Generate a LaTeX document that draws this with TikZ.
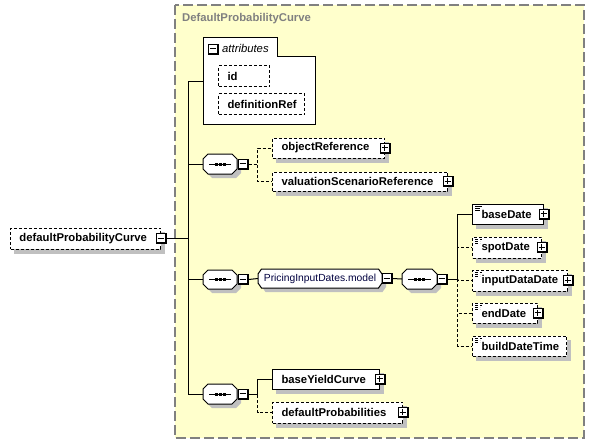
\documentclass[tikz,border=0pt]{standalone}
\usepackage{fontspec}
\setmainfont{Liberation Sans}
\definecolor{bgyellow}{HTML}{FFFFCC}
\definecolor{shadowgray}{HTML}{C0C0C0}
\definecolor{bordergray}{HTML}{808080}
\definecolor{modelblue}{HTML}{000040}
\pgfdeclarelayer{back}
\pgfdeclarelayer{shadow}
\pgfsetlayers{back,shadow,main}
% octagon: cx, cy, half width, half height, chamfer x, chamfer y
\newcommand\octshape[6]{%
  \fill[shadowgray] ({#1-#3+#5+4},{#2-#4+4}) -- ({#1+#3-#5+4},{#2-#4+4}) -- ({#1+#3+4},{#2-#4+#6+4})
    -- ({#1+#3+4},{#2+#4-#6+4}) -- ({#1+#3-#5+4},{#2+#4+4}) -- ({#1-#3+#5+4},{#2+#4+4})
    -- ({#1-#3+4},{#2+#4-#6+4}) -- ({#1-#3+4},{#2-#4+#6+4}) -- cycle;
  \draw[fill=white,line width=1pt] ({#1-#3+#5},{#2-#4}) -- ({#1+#3-#5},{#2-#4}) -- ({#1+#3},{#2-#4+#6})
    -- ({#1+#3},{#2+#4-#6}) -- ({#1+#3-#5},{#2+#4}) -- ({#1-#3+#5},{#2+#4})
    -- ({#1-#3},{#2+#4-#6}) -- ({#1-#3},{#2-#4+#6}) -- cycle;}
% sequence compositor: cx, cy, half width, half height
\newcommand\seqshape[4]{%
  \octshape{#1}{#2}{#3}{#4}{5}{5}%
  \draw[line width=1pt] ({#1-#3+6},#2) -- ({#1+#3-6},#2);
  \fill[black] ({#1-5.5},{#2-1.5}) rectangle ++(3,3);
  \fill[black] ({#1-1.5},{#2-1.5}) rectangle ++(3,3);
  \fill[black] ({#1+2.5},{#2-1.5}) rectangle ++(3,3);}
\tikzset{
  every node/.style={font=\fontsize{11.3}{13}\selectfont\bfseries},
  elem/.style={draw,fill=white,anchor=west,inner xsep=9pt,inner ysep=0pt,align=left,line width=1pt,minimum height=20pt},
  opt/.style={dash pattern=on 3pt off 2pt},
  pmbox/.style={draw=none,fill=black,minimum size=11pt,inner sep=0pt},
  plusbox/.style={pmbox,path picture={
      \filldraw[fill=white,draw=black,line width=1pt] ([shift={(0.5pt,-0.5pt)}]path picture bounding box.north west) rectangle ([shift={(-1.5pt,1.5pt)}]path picture bounding box.south east);
      \draw[line width=1pt] ([shift={(-3.5pt,0.5pt)}]path picture bounding box.center) -- ([shift={(2.5pt,0.5pt)}]path picture bounding box.center);
      \draw[line width=1pt] ([shift={(-0.5pt,3.5pt)}]path picture bounding box.center) -- ([shift={(-0.5pt,-2.5pt)}]path picture bounding box.center);}},
  minusbox/.style={pmbox,path picture={
      \filldraw[fill=white,draw=black,line width=1pt] ([shift={(0.5pt,-0.5pt)}]path picture bounding box.north west) rectangle ([shift={(-1.5pt,1.5pt)}]path picture bounding box.south east);
      \draw[line width=1pt] ([shift={(-3.5pt,0.5pt)}]path picture bounding box.center) -- ([shift={(2.5pt,0.5pt)}]path picture bounding box.center);}},
  icon/.style={path picture={
      \draw[line width=0.8pt] ([xshift=2.5pt,yshift=-2pt]path picture bounding box.north west) -- ++(7pt,0pt);
      \draw[line width=0.8pt] ([xshift=2.5pt,yshift=-4pt]path picture bounding box.north west) -- ++(5pt,0pt);
      \draw[line width=0.8pt] ([xshift=2.5pt,yshift=-6pt]path picture bounding box.north west) -- ++(5pt,0pt);}},
  seqbox/.style={rectangle,draw=none,fill=none,minimum width=34pt,minimum height=20pt,inner sep=0pt},
  conn/.style={line width=1pt}
}
\begin{document}
\begin{tikzpicture}[x=1pt,y=-1pt]
\useasboundingbox (0,0) rectangle (595,444);
% container
\begin{pgfonlayer}{back}
\draw[fill=bgyellow,draw=bordergray,line width=1.3pt,dash pattern=on 10pt off 4pt] (175,5) rectangle (584,438);
\end{pgfonlayer}
\node[anchor=west,inner sep=0pt,text=bordergray] (title) at (182,19) {DefaultProbabilityCurve};

% attributes box
\draw[fill=white,line width=1pt] (203,38) -- (277,38) -- (277,57) -- (315,57) -- (315,125) -- (203,125) -- cycle;
\coordinate (attrW) at (203,82);
\node[minusbox] (attrm) at (213.5,49.5) {};
\node[anchor=west,inner sep=0pt,font=\fontsize{11.3}{13}\selectfont\itshape] (attrlbl) at (222,48.5) {attributes};
\node[elem,opt,text width=33pt,minimum height=21pt] (id) at (218,76.5) {id};
\node[elem,opt,text width=68pt,minimum height=21pt] (defRef) at (218,104.5) {definitionRef};

% root element
\node[elem,opt,text width=132pt,minimum height=21pt] (dpc) at (10,238.5) {defaultProbabilityCurve};
\node[minusbox] (dpcm) at (dpc.east) {};

% sequence 1
\seqshape{220}{164}{17}{10}
\node[seqbox] (s1) at (220,164) {};
\node[minusbox] (s1m) at (243,164) {};
\node[elem,opt,text width=94pt] (objRef) at (272,148) {objectReference};
\node[plusbox] (objRefp) at (objRef.east) {};
\node[elem,opt,text width=157pt,minimum height=19pt] (valRef) at (272,181.5) {valuationScenarioReference};
\node[plusbox] (valRefp) at (valRef.east) {};

% sequence 2
\seqshape{220}{279.5}{17}{9.5}
\node[seqbox,minimum height=19pt] (s2) at (220,279.5) {};
\node[minusbox] (s2m) at (243,279.5) {};
\octshape{320}{278.5}{62}{9.5}{3.5}{5}
\node[seqbox,minimum width=124pt,minimum height=19pt,text=modelblue,font=\fontsize{10.3}{12}\selectfont\mdseries] (model) at (320,278.5) {PricingInputDates.model};
\node[minusbox] (modelm) at (387,278.5) {};
\seqshape{419.5}{279}{17.5}{10}
\node[seqbox,minimum width=35pt] (s2b) at (419.5,279) {};
\node[minusbox] (s2bm) at (442,279) {};
\node[elem,icon,text width=53pt] (baseDate) at (472,214) {baseDate};
\node[plusbox] (baseDatep) at (baseDate.east) {};
\node[elem,icon,opt,text width=51pt,minimum height=21pt] (spotDate) at (472,247.5) {spotDate};
\node[plusbox] (spotDatep) at (spotDate.east) {};
\node[elem,icon,opt,text width=77pt,minimum height=21pt] (inputDataDate) at (472,280.5) {inputDataDate};
\node[plusbox] (inputDataDatep) at (inputDataDate.east) {};
\node[elem,icon,opt,text width=47pt] (endDate) at (472,313) {endDate};
\node[plusbox] (endDatep) at (endDate.east) {};
\node[elem,icon,opt,text width=76pt] (buildDateTime) at (472,346) {buildDateTime};

% sequence 3
\seqshape{220}{394}{17}{10}
\node[seqbox] (s3) at (220,394) {};
\node[minusbox] (s3m) at (243,394) {};
\node[elem,text width=89pt] (baseYieldCurve) at (272,379) {baseYieldCurve};
\node[plusbox] (baseYieldCurvep) at (baseYieldCurve.east) {};
\node[elem,opt,text width=112pt,minimum height=21pt] (defProbs) at (272,412.5) {defaultProbabilities};
\node[plusbox] (defProbsp) at (defProbs.east) {};

% element shadows
\begin{pgfonlayer}{shadow}
\foreach \n in {id,defRef,dpc,objRef,valRef,baseDate,spotDate,inputDataDate,endDate,buildDateTime,baseYieldCurve,defProbs}
  \fill[shadowgray] ([shift={(4,4)}]\n.north west) rectangle ([shift={(4,4)}]\n.south east);
\end{pgfonlayer}

% trunk
\coordinate (jn) at (188,238.5);
\coordinate (ttop) at (188,82);
\coordinate (tbot) at (188,394);
\draw[conn] (dpcm.east) -- (jn);
\draw[conn] (ttop) -- (tbot);
\draw[conn] (ttop) -- (attrW);
\draw[conn] (ttop |- s1.west) -- (s1.west);
\draw[conn] (ttop |- s2.west) -- (s2.west);
\draw[conn] (tbot) -- (s3.west);

% branches seq 1
\draw[conn,opt] (s1m.east) -- ++(9,0) |- (objRef.west);
\draw[conn,opt] (s1m.east) -- ++(9,0) |- (valRef.west);

% branches seq 2
\draw[conn] (s2m.east) -- (model.west);
\draw[conn] (modelm.east) -- (s2b.west);
\draw[conn,opt] (s2bm.east) -- ++(10,0) |- (spotDate.west);
\draw[conn,opt] (s2bm.east) -- ++(10,0) |- (inputDataDate.west);
\draw[conn,opt] (s2bm.east) -- ++(10,0) |- (endDate.west);
\draw[conn,opt] (s2bm.east) -- ++(10,0) |- (buildDateTime.west);
\draw[conn] (s2bm.east) -- ++(10,0) |- (baseDate.west);

% branches seq 3
\draw[conn,opt] (s3m.east) -- ++(9,0) |- (defProbs.west);
\draw[conn] (s3m.east) -- ++(9,0) |- (baseYieldCurve.west);
\end{tikzpicture}
\end{document}
